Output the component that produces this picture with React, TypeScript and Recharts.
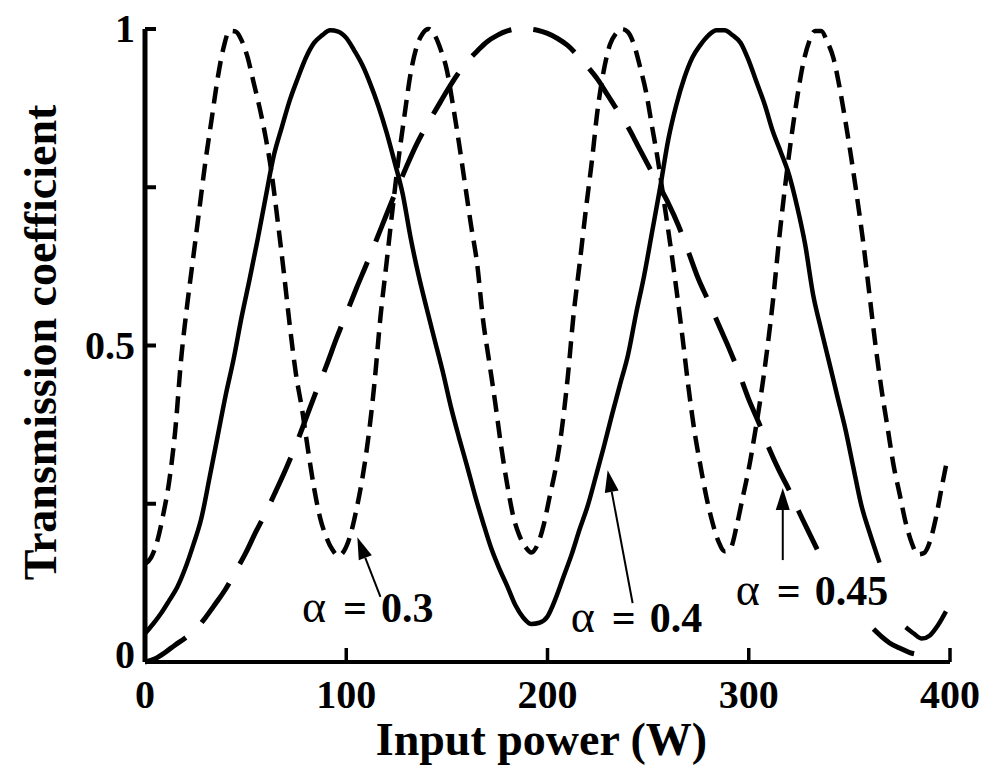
import { Line, LineChart, XAxis, YAxis, ReferenceLine, ReferenceDot } from "recharts";

const FONT = '"Liberation Serif", "Times New Roman", serif';

// alpha = 0.3 (short dashes)
const SHORT_X = [
  0, 3, 6, 9, 12, 15, 18, 21, 24, 27, 30, 33, 36, 39, 42, 45, 48, 51, 54, 57, 60, 63, 66, 69, 72, 75,
  78, 81, 84, 87, 90, 93, 96, 99, 102, 105, 108, 111, 114, 117, 120, 123, 126, 129, 132, 135, 138,
  141, 144, 147, 150, 153, 156, 159, 162, 165, 168, 171, 174, 177, 180, 183, 186, 189, 192, 195, 198,
  201, 204, 207, 210, 213, 216, 219, 222, 225, 228, 231, 234, 237, 240, 243, 246, 249, 252, 255, 258,
  261, 264, 267, 270, 273, 276, 279, 282, 285, 288, 291, 294, 297, 300, 303, 306, 309, 312, 315, 318,
  321, 324, 327, 330, 333, 336, 339, 342, 345, 348, 351, 354, 357, 360, 363, 366, 369, 372, 375, 378,
  381, 384, 387, 390, 393, 396, 398,
];
const SHORT_T = [
  0.155, 0.165, 0.19, 0.232, 0.285, 0.365, 0.48, 0.565, 0.64, 0.715, 0.79, 0.855, 0.92, 0.97, 0.997,
  0.996, 0.982, 0.955, 0.915, 0.875, 0.828, 0.77, 0.695, 0.615, 0.53, 0.455, 0.4, 0.335, 0.275, 0.228,
  0.198, 0.178, 0.168, 0.176, 0.2, 0.24, 0.29, 0.355, 0.44, 0.545, 0.63, 0.715, 0.795, 0.865, 0.93,
  0.972, 0.993, 1.0, 0.99, 0.967, 0.935, 0.88, 0.82, 0.755, 0.69, 0.63, 0.54, 0.475, 0.41, 0.34, 0.28,
  0.23, 0.2, 0.182, 0.173, 0.185, 0.215, 0.26, 0.305, 0.365, 0.448, 0.55, 0.63, 0.713, 0.79, 0.875,
  0.935, 0.975, 0.993, 1.0, 0.995, 0.975, 0.94, 0.9, 0.845, 0.79, 0.725, 0.66, 0.59, 0.515, 0.435,
  0.365, 0.31, 0.26, 0.22, 0.19, 0.175, 0.18, 0.215, 0.26, 0.305, 0.36, 0.42, 0.49, 0.57, 0.665, 0.75,
  0.825, 0.89, 0.945, 0.98, 0.997, 0.997, 0.98, 0.955, 0.91, 0.855, 0.795, 0.73, 0.66, 0.58, 0.5, 0.43,
  0.37, 0.31, 0.265, 0.22, 0.188, 0.17, 0.172, 0.19, 0.228, 0.278, 0.31,
];

// alpha = 0.4 (solid), gap where the label sits
const SOLID_X = [
  0, 4, 8, 12, 16, 20, 24, 28, 32, 36, 40, 44, 48, 52, 56, 60, 64, 68, 72, 76, 80, 84, 88, 92, 96, 100,
  104, 108, 112, 116, 120, 124, 128, 132, 136, 140, 144, 148, 152, 156, 160, 164, 168, 172, 176, 180,
  184, 188, 192, 196, 200, 204, 208, 212, 216, 220, 224, 228, 232, 236, 240, 244, 248, 252, 256, 260,
  264, 268, 272, 276, 280, 284, 288, 292, 296, 300, 304, 308, 312, 316, 320, 324, 328, 332, 336, 340,
  344, 348, 352, 356, 360, 365, 372, 378, 382, 386, 390, 394, 398,
];
const SOLID_T = [
  0.045, 0.06, 0.077, 0.097, 0.118, 0.148, 0.185, 0.227, 0.29, 0.355, 0.42, 0.478, 0.545, 0.605, 0.668,
  0.735, 0.8, 0.845, 0.888, 0.923, 0.955, 0.978, 0.99, 0.998, 0.996, 0.986, 0.966, 0.943, 0.913, 0.878,
  0.837, 0.79, 0.74, 0.67, 0.61, 0.558, 0.508, 0.458, 0.403, 0.355, 0.31, 0.263, 0.22, 0.18, 0.148,
  0.12, 0.09, 0.07, 0.06, 0.062, 0.072, 0.1, 0.135, 0.17, 0.21, 0.247, 0.293, 0.34, 0.39, 0.438, 0.485,
  0.55, 0.61, 0.68, 0.75, 0.825, 0.88, 0.923, 0.955, 0.975, 0.99, 0.998, 0.998, 0.99, 0.978, 0.95,
  0.915, 0.88, 0.838, 0.805, 0.77, 0.72, 0.66, 0.58, 0.525, 0.473, 0.42, 0.368, 0.307, 0.247, 0.205,
  0.157, null, 0.055, 0.045, 0.037, 0.042, 0.058, 0.08,
];

// alpha = 0.45 (long dashes)
const LONG_X = [
  0, 5, 10, 15, 20, 25, 30, 35, 40, 45, 50, 55, 60, 65, 70, 75, 80, 85, 90, 95, 100, 105, 110, 115, 120,
  125, 130, 135, 140, 145, 150, 155, 160, 165, 170, 175, 180, 185, 190, 195, 200, 205, 210, 215, 220,
  225, 230, 235, 240, 245, 250, 255, 260, 265, 270, 275, 280, 285, 290, 295, 300, 305, 310, 315, 320,
  325, 330, 334, 348, 362, 366, 370, 375, 380, 384, 388,
];
const LONG_T = [
  0.0, 0.005, 0.015, 0.027, 0.038, 0.051, 0.07, 0.092, 0.115, 0.143, 0.172, 0.205, 0.236, 0.27, 0.305,
  0.343, 0.385, 0.427, 0.467, 0.51, 0.55, 0.59, 0.628, 0.667, 0.707, 0.746, 0.783, 0.818, 0.848, 0.875,
  0.902, 0.927, 0.948, 0.965, 0.98, 0.99, 0.997, 1.0, 1.0, 0.998, 0.993, 0.985, 0.974, 0.958, 0.94,
  0.92, 0.895, 0.87, 0.845, 0.815, 0.785, 0.755, 0.725, 0.69, 0.648, 0.605, 0.57, 0.533, 0.497, 0.458,
  0.415, 0.378, 0.338, 0.303, 0.272, 0.237, 0.204, 0.178, null, 0.052, 0.04, 0.03, 0.022, 0.015, 0.012,
  0.011,
];

const X_TICKS = [0, 100, 200, 300, 400];
const Y_TICKS = [0, 0.25, 0.5, 0.75, 1];
const Y_TICK_TEXT = ["0", "", "0.5", "", "1"];

// curve labels: alpha value, text anchor (x, T), arrow tail and head (x, T)
const LABEL_VALUES = ["0.3", "0.4", "0.45"];
const LABEL_AT = [
  [78, 0.063],
  [211.5, 0.047],
  [293.5, 0.09],
];
const ARROW_FROM = [
  [117, 0.103],
  [242.3, 0.093],
  [316.9, 0.161],
];
const ARROW_TO = [
  [105.5, 0.197],
  [229.9, 0.303],
  [316.9, 0.275],
];

const toPoints = (xs: number[], ts: (number | null)[]) => xs.map((x, i) => ({ x, t: ts[i] }));
const shortData = toPoints(SHORT_X, SHORT_T);
const solidData = toPoints(SOLID_X, SOLID_T);
const longData = toPoints(LONG_X, LONG_T);

function XTick(props: any) {
  const { x, y, payload } = props;
  const v = payload.value as number;
  return (
    <g>
      {v !== 0 && <line x1={x} x2={x} y1={y} y2={y - 14} stroke="#000" strokeWidth={3.5} />}
      <text x={x} y={y + 46} textAnchor="middle" fontFamily={FONT} fontWeight="bold" fontSize={40} fill="#000">
        {String(v)}
      </text>
    </g>
  );
}

function YTick(props: any) {
  const { x, y, payload, index } = props;
  const v = payload.value as number;
  const text = Y_TICK_TEXT[Y_TICKS.indexOf(v)] ?? "";
  return (
    <g key={index}>
      {v !== 0 && <line x1={x} x2={x + 11} y1={y} y2={y} stroke="#000" strokeWidth={4} />}
      {text && (
        <text
          x={x - 10}
          y={y + (v === 0 ? 6 : 13)}
          textAnchor="end"
          fontFamily={FONT}
          fontWeight="bold"
          fontSize={40}
          fill="#000"
        >
          {text}
        </text>
      )}
    </g>
  );
}

function YTitle({ viewBox }: any) {
  const cx = viewBox.x + viewBox.width - 89;
  const cy = viewBox.y + viewBox.height / 2 - 3;
  return (
    <text
      x={cx}
      y={cy}
      transform={`rotate(-90 ${cx} ${cy})`}
      textAnchor="middle"
      fontFamily={FONT}
      fontWeight="bold"
      fontSize={46}
      fill="#000"
    >
      Transmission coefficient
    </text>
  );
}

function XTitle({ viewBox }: any) {
  const cx = viewBox.x + viewBox.width / 2 - 6;
  const cy = viewBox.y + 93;
  return (
    <text x={cx} y={cy} textAnchor="middle" fontFamily={FONT} fontWeight="bold" fontSize={46} fill="#000">
      Input power (W)
    </text>
  );
}

function Arrow(props: any) {
  const { x1, y1, x2, y2 } = props;
  const dx = x2 - x1;
  const dy = y2 - y1;
  const len = Math.sqrt(dx * dx + dy * dy) || 1;
  const ux = dx / len;
  const uy = dy / len;
  const head = 22;
  const half = 7;
  const bx = x2 - ux * head;
  const by = y2 - uy * head;
  return (
    <g>
      <line x1={x1} y1={y1} x2={bx} y2={by} stroke="#000" strokeWidth={2} />
      <polygon
        points={`${x2},${y2} ${bx - uy * half},${by + ux * half} ${bx + uy * half},${by - ux * half}`}
        fill="#000"
      />
    </g>
  );
}

function alphaLabel(value: string) {
  return ({ viewBox }: any) => (
    <text x={viewBox.x} y={viewBox.y} fontFamily={FONT} fill="#000">
      <tspan fontSize={46}>α</tspan>
      <tspan dx={17} fontSize={42} fontWeight="bold">
        =
      </tspan>
      <tspan dx={14} fontSize={42} fontWeight="bold">
        {value}
      </tspan>
    </text>
  );
}

export default function App() {
  return (
    <div style={{ position: "absolute", left: 0, top: 0, width: 986, height: 778, background: "#fff" }}>
      <LineChart width={986} height={778} margin={{ top: 29, right: 36, bottom: 56, left: 85 }}>
        <XAxis
          type="number"
          dataKey="x"
          domain={[0, 400]}
          ticks={X_TICKS}
          height={60}
          tickSize={0}
          tickMargin={0}
          tickLine={false}
          tick={(p: any) => <XTick {...p} />}
          axisLine={{ stroke: "#000", strokeWidth: 4 }}
          label={XTitle}
        />
        <YAxis
          type="number"
          domain={[0, 1]}
          ticks={Y_TICKS}
          width={60}
          tickSize={0}
          tickMargin={0}
          tickLine={false}
          tick={(p: any) => <YTick {...p} />}
          axisLine={{ stroke: "#000", strokeWidth: 5 }}
          label={YTitle}
        />
        <Line
          data={shortData}
          dataKey="t"
          type="monotone"
          stroke="#000"
          strokeWidth={4.5}
          strokeDasharray="17 9"
          dot={false}
          activeDot={false}
          isAnimationActive={false}
        />
        <Line
          data={solidData}
          dataKey="t"
          type="monotone"
          stroke="#000"
          strokeWidth={4.5}
          dot={false}
          activeDot={false}
          isAnimationActive={false}
        />
        <Line
          data={longData}
          dataKey="t"
          type="monotone"
          stroke="#000"
          strokeWidth={5}
          strokeDasharray="48 22"
          dot={false}
          activeDot={false}
          isAnimationActive={false}
        />
        {LABEL_VALUES.map((v, i) => (
          <ReferenceLine
            key={"arrow" + v}
            segment={[
              { x: ARROW_FROM[i][0], y: ARROW_FROM[i][1] },
              { x: ARROW_TO[i][0], y: ARROW_TO[i][1] },
            ]}
            shape={Arrow}
          />
        ))}
        {LABEL_VALUES.map((v, i) => (
          <ReferenceDot
            key={"label" + v}
            x={LABEL_AT[i][0]}
            y={LABEL_AT[i][1]}
            r={0}
            fill="none"
            stroke="none"
            label={alphaLabel(v)}
          />
        ))}
      </LineChart>
    </div>
  );
}
